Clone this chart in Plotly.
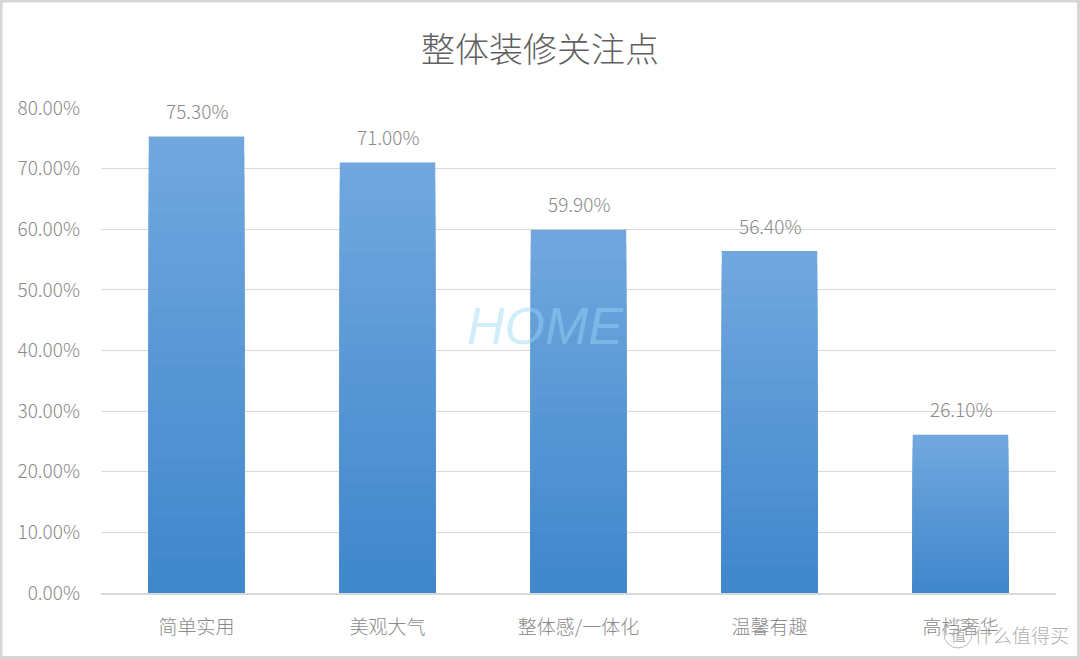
import plotly.graph_objects as go

categories = ["简单实用", "美观大气", "整体感/一体化", "温馨有趣", "高档奢华"]
values = [0.753, 0.710, 0.599, 0.564, 0.261]
y_ticks = [0, 0.1, 0.2, 0.3, 0.4, 0.5, 0.6, 0.7, 0.8]
y_tick_labels = [f"{t*100:.2f}%" for t in y_ticks]
title_text = "整体装修关注点"

FONT = "Noto Sans CJK SC, Noto Sans, sans-serif"
TXT = "#8a8a8a"

light = (0x72, 0xa8, 0xde)
dark = (0x3f, 0x86, 0xcb)

fig = go.Figure()
N = 24
for i in range(N):
    frac = 1 - i / N
    f = frac - 0.5 / N
    c = tuple(round(dark[k] + (light[k] - dark[k]) * f) for k in range(3))
    fig.add_trace(go.Bar(
        x=categories,
        y=[v * frac for v in values],
        width=0.5,
        marker=dict(color=f"rgb{c}", line=dict(width=0)),
        showlegend=False,
        hoverinfo="skip" if i else None,
    ))

W, H = 1080, 659
L, R, T, B = 101, 24, 108, 66
pw, ph = W - L - R, H - T - B


def px(x):
    return (x - L) / pw


def py(y):
    return (H - B - y) / ph


annotations = []
for c, v in zip(categories, values):
    annotations.append(dict(
        x=c, y=v, xref="x", yref="y", text=f"{v*100:.2f}%",
        showarrow=False, yshift=26, yanchor="middle",
        font=dict(family=FONT, size=19, color=TXT, weight=300),
    ))

# watermark
annotations.append(dict(
    x=px(545), y=py(326), xref="paper", yref="paper", text="<i>HOME</i>",
    showarrow=False, font=dict(family="Liberation Sans, Arial", size=52,
                               color="rgba(150,215,245,0.45)"),
))
annotations.append(dict(
    x=px(1071), y=py(634), xref="paper", yref="paper", text="什么值得买",
    showarrow=False, xanchor="right", yanchor="middle",
    font=dict(family=FONT, size=19, color="#b0b0b0", weight=300),
))
annotations.append(dict(
    x=px(958), y=py(634), xref="paper", yref="paper", text="值",
    showarrow=False, xanchor="center", yanchor="middle",
    font=dict(family=FONT, size=15, color="#b0b0b0"),
))

shapes = [
    dict(type="rect", xref="paper", yref="paper",
         x0=px(1), x1=px(1078.5), y0=py(657.5), y1=py(1),
         line=dict(color="#d6d6d6", width=3), fillcolor="rgba(0,0,0,0)",
         layer="above"),
    dict(type="circle", xref="paper", yref="paper",
         x0=px(944), x1=px(972), y0=py(648), y1=py(620),
         line=dict(color="#b8b8b8", width=1), fillcolor="rgba(0,0,0,0)",
         layer="above"),
]

fig.update_layout(
    width=W, height=H,
    margin=dict(l=L, r=R, t=T, b=B),
    paper_bgcolor="white", plot_bgcolor="white",
    barmode="overlay",
    title=dict(text=title_text, x=0.5, xref="container", xanchor="center",
               y=1 - 50 / H, yref="container", yanchor="middle",
               font=dict(family=FONT, size=34, color="#606060", weight=300)),
    xaxis=dict(
        showgrid=False, showline=True, linecolor="#d9d9d9", linewidth=1.5,
        ticks="", tickfont=dict(family=FONT, size=19, color=TXT, weight=300),
        ticklabelstandoff=16, fixedrange=True,
    ),
    yaxis=dict(
        range=[0, 0.8], tickvals=y_ticks, ticktext=y_tick_labels,
        showgrid=True, gridcolor="#d9d9d9", gridwidth=1,
        zeroline=False, showline=False, ticks="",
        tickfont=dict(family=FONT, size=19, color=TXT, weight=300),
        ticklabelstandoff=20, fixedrange=True,
    ),
    annotations=annotations,
    shapes=shapes,
    showlegend=False,
)

fig.write_html("out.html", config={"displayModeBar": False},
               post_script="document.body.style.margin='0px';")
